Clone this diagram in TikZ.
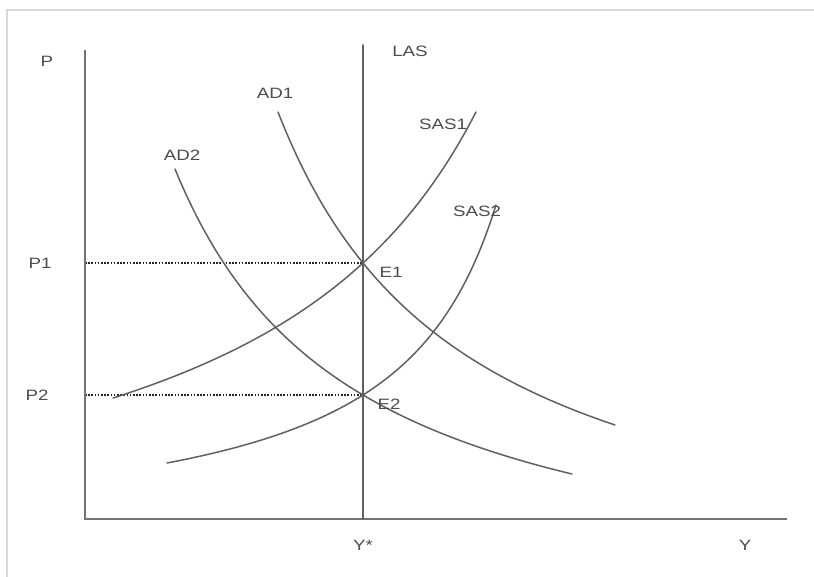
\documentclass[tikz,border=0pt]{standalone}
\usepackage{fontspec}
\setmainfont{Liberation Sans}
\begin{document}
\begin{tikzpicture}[x=1pt,y=-1pt,
  lbl/.style={text=black!70,font=\fontsize{15}{15}\selectfont,inner sep=0pt,xscale=1.25},
  curve/.style={draw=black!62,line width=1.5pt,line cap=round,line join=round},
  axisline/.style={draw=black!55,line width=1.9pt},
  guide/.style={draw=black!85,line width=1.1pt,dash pattern=on 1.6pt off 1.6pt},
  frame/.style={draw=black!15,line width=1.2pt}]
\useasboundingbox (0,0) rectangle (814,577);
\fill[white] (0,0) rectangle (814,577);
% frame
\draw[frame] (7,577) -- (7,10) -- (814,10);
% coordinates
\coordinate (O) at (85,519);
\coordinate (Ytop) at (85,50);
\coordinate (Xend) at (787,519);
\coordinate (LASt) at (363,45);
\coordinate (LASb) at (363,519);
\coordinate (E1) at (363,263);
\coordinate (E2) at (363,395);
\coordinate (P1a) at (85,263);
\coordinate (P2a) at (85,395);
% guides
\draw[guide] (P1a) -- (E1);
\draw[guide] (P2a) -- (E2);
% axes
\draw[axisline] (Ytop) -- (O) -- (Xend);
\draw[curve,line width=1.7pt] (LASt) -- (LASb);
% curves
\draw[curve] plot[domain=278:615,samples=90] (\x,{602.5-93.733/((\x-86.9)/1000)});
\draw[curve] plot[domain=175:572,samples=90] (\x,{613.9-80.999/((\x+7.07)/1000)});
\draw[curve] plot[domain=113:476,samples=90] (\x,{591.9+118.061/((\x-722)/1000)});
\draw[curve] plot[domain=167:496,samples=90] (\x,{545.75+35.953/((\x-601.5)/1000)});
% labels
\node[lbl] (lP) at (47,61) {P};
\node[lbl] (lLAS) at (410,51) {LAS};
\node[lbl] (lAD1) at (275,93) {AD1};
\node[lbl] (lAD2) at (182,155) {AD2};
\node[lbl] (lSAS1) at (443,124) {SAS1};
\node[lbl] (lSAS2) at (477,211) {SAS2};
\node[lbl] (lE1) at (391,272) {E1};
\node[lbl] (lE2) at (389,404) {E2};
\node[lbl] (lP1) at (40,263) {P1};
\node[lbl] (lP2) at (37,395) {P2};
\node[lbl] (lYs) at (363,545) {Y*};
\node[lbl] (lY) at (745,545) {Y};
\end{tikzpicture}
\end{document}
